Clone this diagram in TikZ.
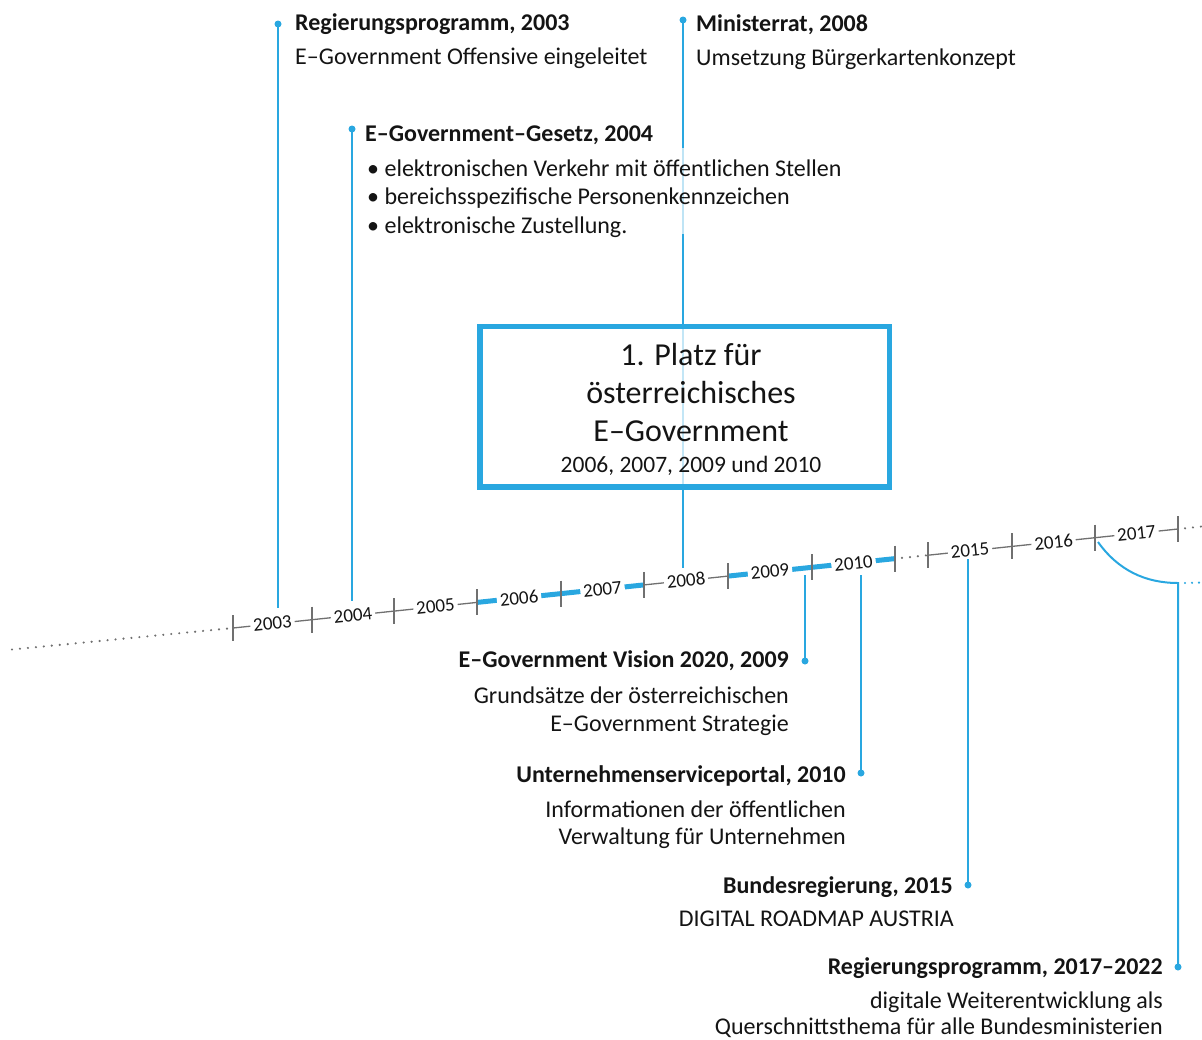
\documentclass[tikz,border=0pt]{standalone}
\usepackage{fontspec}
\setmainfont{Carlito}
\usetikzlibrary{calc}
\definecolor{tlblue}{RGB}{41,167,224}
\definecolor{tlgray}{RGB}{112,112,112}
\definecolor{txt}{RGB}{20,20,20}
\begin{document}
\begin{tikzpicture}[x=1pt,y=-1pt,
  thinseg/.style={draw=tlgray, line width=1.3},
  thickseg/.style={draw=tlblue, line width=5},
  dotseg/.style={draw=tlgray, line width=2.4, line cap=round, dash pattern=on 0pt off 8pt},
  bluedots/.style={draw=tlblue, line width=2.4, line cap=round, dash pattern=on 0pt off 7pt},
  tickmark/.style={draw=tlgray, line width=1.5},
  yearlbl/.style={fill=white, inner xsep=3, inner ysep=1, rotate=6, font=\fontsize{19}{21}\selectfont, text=txt},
  conn/.style={draw=tlblue, line width=2},
  dotn/.style={circle, fill=tlblue, inner sep=0, minimum size=7},
  ttl/.style={font=\bfseries\fontsize{24}{28}\selectfont, text=txt, inner sep=0},
  body/.style={font=\fontsize{24}{28}\selectfont, text=txt, inner sep=0},
  big/.style={font=\fontsize{32}{38}\selectfont, text=txt, inner sep=0},
]
\useasboundingbox (0,0) rectangle (1202,1039);

% ---------- tick coordinates on the time line ----------
\coordinate (ks) at (12,649.5);
\coordinate (k0) at (233,628);
\coordinate (k1) at (312,619.7);
\coordinate (k2) at (394,611.1);
\coordinate (k3) at (477,602.4);
\coordinate (k4) at (561,593.6);
\coordinate (k5) at (644,584.9);
\coordinate (k6) at (728,576.1);
\coordinate (k7) at (812,567.3);
\coordinate (k8) at (895,558.6);
\coordinate (k9) at (928,555.2);
\coordinate (k10) at (1012,546.4);
\coordinate (k11) at (1095,537.7);
\coordinate (k12) at (1178,529);
\coordinate (ke) at (1202,526.5);

% ---------- vertical connectors (drawn first) ----------
\node[dotn] (d03) at (278,24) {};
\coordinate (e03) at (278,608);
\draw[conn] (d03.center) -- (e03);

\node[dotn] (d04) at (352,129) {};
\coordinate (e04) at (352,601);
\draw[conn] (d04.center) -- (e04);

\node[dotn] (d08) at (683,20) {};
\coordinate (e08) at (683,568);
\draw[conn] (d08.center) -- (e08);

\node[dotn] (d09) at (805,661) {};
\coordinate (e09) at (805,575);
\draw[conn] (e09) -- (d09.center);

\node[dotn] (d10) at (861,773) {};
\coordinate (e10) at (861,575);
\draw[conn] (e10) -- (d10.center);

\node[dotn] (d15) at (968,885) {};
\coordinate (e15) at (968,559);
\draw[conn] (e15) -- (d15.center);

\node[dotn] (d17) at (1178,967) {};
\coordinate (s17) at (1098,542);
\coordinate (c17) at (1178,583);
\coordinate (x17) at (1202,582.5);
\draw[conn] (s17) .. controls (1118,570) and (1145,583) .. (c17) -- (d17.center);
\draw[bluedots] (c17) ++(7,0) -- (x17);

% ---------- time line ----------
\draw[dotseg] (ks) -- (k0);
\draw[thinseg] (k0) -- (k1);
\draw[thinseg] (k1) -- (k2);
\draw[thinseg] (k2) -- (k3);
\draw[thickseg] (k3) -- (k4);
\draw[thickseg] (k4) -- (k5);
\draw[thinseg] (k5) -- (k6);
\draw[thickseg] (k6) -- (k7);
\draw[thickseg] (k7) -- (k8);
\draw[dotseg] (k8) ++(7,-0.7) -- (k9);
\draw[thinseg] (k9) -- (k10);
\draw[thinseg] (k10) -- (k11);
\draw[thinseg] (k11) -- (k12);
\draw[dotseg] (k12) ++(7,-0.7) -- (ke);

\foreach \k in {k0,k1,k2,k3,k4,k5,k6,k7,k8,k9,k10,k11,k12}{
  \draw[tickmark] ($(\k)+(0,-13)$) -- ($(\k)+(0,13)$);
}

\node[yearlbl] (y2003) at ($(k0)!0.5!(k1)$) {2003};
\node[yearlbl] (y2004) at ($(k1)!0.5!(k2)$) {2004};
\node[yearlbl] (y2005) at ($(k2)!0.5!(k3)$) {2005};
\node[yearlbl] (y2006) at ($(k3)!0.5!(k4)$) {2006};
\node[yearlbl] (y2007) at ($(k4)!0.5!(k5)$) {2007};
\node[yearlbl] (y2008) at ($(k5)!0.5!(k6)$) {2008};
\node[yearlbl] (y2009) at ($(k6)!0.5!(k7)$) {2009};
\node[yearlbl] (y2010) at ($(k7)!0.5!(k8)$) {2010};
\node[yearlbl] (y2015) at ($(k9)!0.5!(k10)$) {2015};
\node[yearlbl] (y2016) at ($(k10)!0.5!(k11)$) {2016};
\node[yearlbl] (y2017) at ($(k11)!0.5!(k12)$) {2017};

% ---------- top texts ----------
\node[ttl, anchor=base west] (t03) at (295,30) {Regierungsprogramm, 2003};
\node[body, anchor=base west] (b03) at (295,64) {E–Government Offensive eingeleitet};

\node[ttl, anchor=base west] (t08) at (696,31.5) {Ministerrat, 2008};
\node[body, anchor=base west] (b08) at (696,65) {Umsetzung Bürgerkartenkonzept};

\node[ttl, anchor=base west] (t04) at (365,141) {E–Government–Gesetz, 2004};
\fill[white, fill opacity=0.7] (362,148) rectangle (845,234);
\node[body, anchor=base west] (b04a) at (367,176) {• elektronischen Verkehr mit öffentlichen Stellen};
\node[body, anchor=base west] (b04b) at (367,204.5) {• bereichsspezifische Personenkennzeichen};
\node[body, anchor=base west] (b04c) at (367,233) {• elektronische Zustellung.};

% ---------- award box ----------
\node[draw=tlblue, line width=5.5, fill=white, fill opacity=0.72, draw opacity=1,
      minimum width=409.5, minimum height=160.5, inner sep=0] (box) at (684.75,406.75) {};
\node[big, anchor=base] (p1) at (691,365.5) {1. Platz für};
\node[big, anchor=base] (p2) at (691,403) {österreichisches};
\node[big, anchor=base] (p3) at (691,441) {E–Government};
\node[body, font=\fontsize{23.5}{28}\selectfont, anchor=base] (p4) at (691,472.5) {2006, 2007, 2009 und 2010};

% ---------- bottom texts ----------
\node[ttl, anchor=base east] (t09) at (789,667) {E–Government Vision 2020, 2009};
\node[body, anchor=base east] (b09a) at (789,703) {Grundsätze der österreichischen};
\node[body, anchor=base east] (b09b) at (789,731) {E–Government Strategie};

\node[ttl, anchor=base east] (t10) at (846,782) {Unternehmenserviceportal, 2010};
\node[body, anchor=base east] (b10a) at (846,817) {Informationen der öffentlichen};
\node[body, anchor=base east] (b10b) at (846,844.5) {Verwaltung für Unternehmen};

\node[ttl, anchor=base east] (t15) at (953,893) {Bundesregierung, 2015};
\node[body, anchor=base east] (b15) at (954,926.5) {DIGITAL ROADMAP AUSTRIA};

\node[ttl, anchor=base east] (t17) at (1163,974) {Regierungsprogramm, 2017–2022};
\node[body, anchor=base east] (b17a) at (1163,1008) {digitale Weiterentwicklung als};
\node[body, anchor=base east] (b17b) at (1163,1034.5) {Querschnittsthema für alle Bundesministerien};
\end{tikzpicture}
\end{document}
